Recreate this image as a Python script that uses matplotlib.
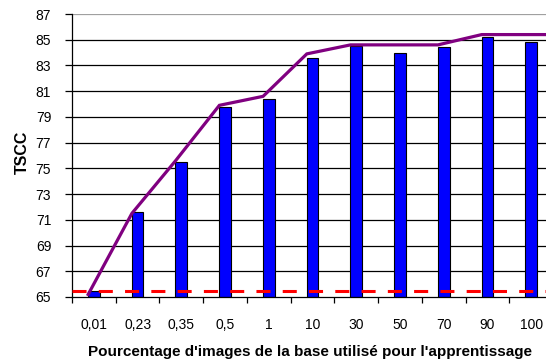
import matplotlib
matplotlib.use("Agg")
import matplotlib.pyplot as plt
import numpy as np

plt.rcParams['font.family'] = ['Liberation Sans', 'DejaVu Sans']

categories = ["0,01", "0,23", "0,35", "0,5", "1", "10", "30", "50", "70", "90", "100"]
bar_values = [65.5, 71.6, 75.5, 79.8, 80.4, 83.6, 84.5, 84.0, 84.4, 85.2, 84.8]
line_values = [65.2, 71.5, 75.6, 79.9, 80.6, 83.9, 84.6, 84.6, 84.6, 85.4, 85.4]
baseline_value = 65.5
y_ticks = list(range(65, 88, 2))

fig = plt.figure(figsize=(5.46, 3.63), dpi=100)
ax = fig.add_axes([72 / 546, 1 - 297 / 363, 481 / 546, (297 - 14) / 363])

x = np.arange(len(categories))
x_left, x_right = -0.5, len(categories) - 0.5
ax.set_xlim(x_left, x_right)
ax.set_ylim(65, 87)

# horizontal grid
for v in y_ticks[1:-1]:
    ax.axhline(v, color="black", lw=0.9, zorder=1)
ax.axhline(87, color="#a0a0a0", lw=0.9, zorder=1)

ax.bar(x, [v - 65 for v in bar_values], bottom=65, width=0.27,
       color="#0000ff", edgecolor="black", linewidth=0.8, zorder=2)

# trend line, its last level carried on to the right edge of the plot
line_x = list(x - 0.13) + [x_right]
line_y = line_values + [line_values[-1]]
ax.plot(line_x, line_y, color="#800080", lw=2.3,
        solid_joinstyle="miter", zorder=3)

ax.axhline(baseline_value, color="#ff0000", lw=2.2, dashes=(4.6, 4.0), zorder=4)

ax.set_yticks(y_ticks)
ax.set_yticklabels([str(v) for v in y_ticks], fontsize=10)
ax.set_xticks(np.arange(-0.5, len(categories)), minor=False)
ax.set_xticklabels([])
ax.set_xticks(x, minor=True)
ax.set_xticklabels(categories, minor=True, fontsize=10)
ax.tick_params(axis="x", which="major", direction="out", length=4, width=0.9)
ax.tick_params(axis="x", which="minor", length=0, pad=15)
ax.tick_params(axis="y", direction="out", length=5, width=0.9, pad=10)

for s in ("top", "right"):
    ax.spines[s].set_visible(False)
ax.spines["left"].set_linewidth(0.9)
ax.spines["bottom"].set_linewidth(0.9)

fig.text(22 / 546, 1 - 152 / 363, "TSCC", rotation=90, ha="center", va="center",
         fontsize=11.5, fontweight="bold")
fig.text(310 / 546, 1 - 352 / 363, "Pourcentage d'images de la base utilisé pour l'apprentissage",
         ha="center", va="center", fontsize=11, fontweight="bold")

fig.savefig("out.png", dpi=100)
